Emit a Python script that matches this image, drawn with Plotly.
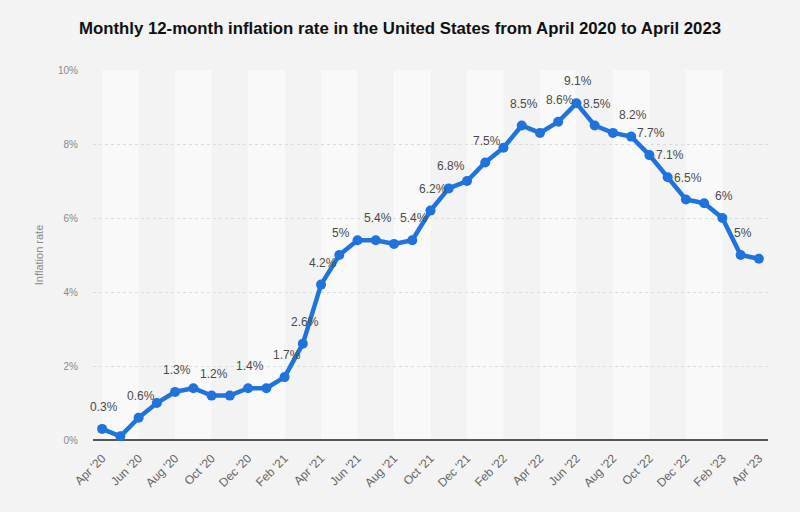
import plotly.graph_objects as go

months = ["Apr '20", "May '20", "Jun '20", "Jul '20", "Aug '20", "Sep '20", "Oct '20", "Nov '20",
          "Dec '20", "Jan '21", "Feb '21", "Mar '21", "Apr '21", "May '21", "Jun '21", "Jul '21",
          "Aug '21", "Sep '21", "Oct '21", "Nov '21", "Dec '21", "Jan '22", "Feb '22", "Mar '22",
          "Apr '22", "May '22", "Jun '22", "Jul '22", "Aug '22", "Sep '22", "Oct '22", "Nov '22",
          "Dec '22", "Jan '23", "Feb '23", "Mar '23", "Apr '23"]
values = [0.3, 0.1, 0.6, 1.0, 1.3, 1.4, 1.2, 1.2, 1.4, 1.4, 1.7, 2.6, 4.2, 5.0, 5.4, 5.4,
          5.3, 5.4, 6.2, 6.8, 7.0, 7.5, 7.9, 8.5, 8.3, 8.6, 9.1, 8.5, 8.3, 8.2, 7.7, 7.1,
          6.5, 6.4, 6.0, 5.0, 4.9]
show_label = [1, 0, 1, 0, 1, 0, 1, 0, 1, 0, 1, 1, 1, 1, 0, 1,
              0, 1, 1, 1, 0, 1, 0, 1, 0, 1, 1, 1, 0, 1, 1, 1,
              1, 0, 1, 1, 0]
tick_labels = months[::2]
y_ticks = [0, 2, 4, 6, 8, 10]

FONT = "Liberation Sans, Arial, sans-serif"

fig = go.Figure()
fig.add_trace(go.Scatter(
    x=months, y=values, mode="lines+markers",
    line=dict(color="#1f73dd", width=4.5),
    marker=dict(color="#1f73dd", size=10),
    cliponaxis=False, hoverinfo="skip",
))

# data labels
for m, v, s in zip(months, values, show_label):
    if s:
        fig.add_annotation(x=m, y=v, text=f"{v:g}%", showarrow=False,
                           yshift=22, xshift=2,
                           font=dict(family=FONT, size=12, color="#4a4a4a"))

# alternating column bands
for i in range(0, len(months) - 1, 4):
    fig.add_shape(type="rect", xref="x", yref="y", x0=i, x1=i + 2, y0=0, y1=10,
                  fillcolor="#f9f9f9", line=dict(width=0), layer="below")

fig.update_layout(
    width=800, height=512,
    paper_bgcolor="#f3f3f3", plot_bgcolor="#f3f3f3",
    margin=dict(l=93, r=32, t=70, b=72, autoexpand=False),
    showlegend=False,
    title=dict(text="<b>Monthly 12-month inflation rate in the United States from April 2020 to April 2023</b>",
               x=0.5, xanchor="center", y=1 - 28 / 512, yanchor="middle",
               font=dict(family=FONT, size=16.8, color="#111")),
    font=dict(family=FONT),
)
fig.update_xaxes(
    type="category", range=[-0.5, len(months) - 0.5],
    tickmode="array", tickvals=tick_labels, ticktext=tick_labels,
    tickangle=-45, tickfont=dict(size=12, color="#666"), ticklabelstandoff=8,
    showgrid=False, showline=False, zeroline=False, ticks="",
    automargin=False,
)
fig.update_yaxes(
    range=[0, 10], tickvals=y_ticks, ticktext=[f"{t}%" for t in y_ticks],
    tickfont=dict(size=10, color="#8a8a8a"), ticklabelstandoff=14,
    showgrid=True, gridcolor="#dcdcdc", griddash="dot", gridwidth=1,
    zeroline=True, zerolinecolor="#555", zerolinewidth=2,
    title=dict(text="Inflation rate", font=dict(size=11, color="#8a8a8a"), standoff=12),
    automargin=False,
)

fig.write_html("out.html", config={"displayModeBar": False},
               post_script="document.body.style.margin='0';")
